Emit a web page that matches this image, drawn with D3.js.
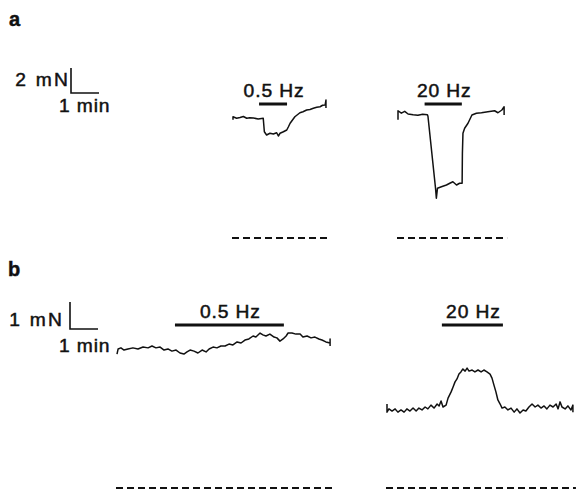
<!DOCTYPE html>
<html lang="en">
<head>
    <title>twitch traces</title>
    <meta charset="UTF-8">
    <script src="https://cdn.jsdelivr.net/npm/d3@7"></script>
    <style>
        body{margin:0;background:#fff;}
        svg{display:block;}
        text{font-family:"Liberation Sans",Arial,sans-serif;fill:#111;stroke:#111;stroke-width:0.45px;}
    </style>
</head>
<body>
    <div id="chart"></div>
    <script>
        // data: [time (min from trace start), force (mN)]
        var traceA1=[[0,9.46],[0,9.7],[0.13,9.58],[0.25,9.64],[0.37,9.72],[0.49,9.58],[0.6,9.62],[0.73,9.6],[0.9,9.52],[1.08,9.58],
            [1.12,8.5],[1.2,8.24],[1.32,8.38],[1.44,8.32],[1.56,8.42],[1.62,8.16],[1.68,8.38],[1.8,8.5],[1.92,8.64],[1.98,8.9],
            [2.04,9.18],[2.21,9.7],[2.39,10.02],[2.5,10.1],[2.63,10.24],[2.75,10.28],[2.87,10.38],[2.99,10.46],[3.11,10.5],[3.2,10.62],
            [3.29,10.64],[3.32,11.04],[3.32,10.4]];
        var traceA2=[[0,9.46],[0,10.18],[0.12,9.99],[0.24,10.13],[0.36,9.92],[0.54,9.86],[0.71,9.82],[0.88,9.9],[1.05,9.86],[1.07,9.74],
            [1.34,3.98],[1.37,3.18],[1.41,3.98],[1.55,4.1],[1.73,4.24],[1.85,4.38],[1.96,4.5],[2.09,4.24],[2.2,4.38],[2.29,4.38],
            [2.3,6.78],[2.32,8.38],[2.38,8.78],[2.5,9.18],[2.64,9.84],[2.8,9.98],[2.98,10.02],[3.21,10.1],[3.45,10.18],[3.57,10.02],
            [3.71,10.24],[3.79,10.5],[3.79,9.84]];
        var traceB1=[[0,4.96],[0.04,5.15],[0.14,5.19],[0.25,5.11],[0.39,5.15],[0.57,5.19],[0.75,5.15],[0.93,5.22],[1.11,5.19],[1.25,5.26],
            [1.39,5.19],[1.54,5.22],[1.68,5.11],[1.82,5.15],[1.96,5.07],[2.11,5.11],[2.25,5.0],[2.39,4.96],[2.5,5.04],[2.61,5.11],
            [2.75,5.07],[2.89,5.0],[3.04,5.11],[3.18,5.04],[3.29,5.15],[3.43,5.22],[3.57,5.19],[3.71,5.26],[3.86,5.26],[4.0,5.33],
            [4.14,5.3],[4.29,5.41],[4.43,5.37],[4.57,5.48],[4.71,5.52],[4.86,5.63],[4.96,5.59],[5.11,5.74],[5.21,5.67],[5.32,5.63],
            [5.46,5.7],[5.61,5.59],[5.71,5.56],[5.82,5.44],[5.93,5.52],[6.04,5.63],[6.11,5.74],[6.25,5.74],[6.39,5.7],[6.54,5.7],
            [6.64,5.59],[6.79,5.63],[6.93,5.56],[7.07,5.59],[7.21,5.52],[7.32,5.48],[7.46,5.41],[7.61,5.37],[7.61,5.52],[7.61,5.26]];
        var traceB2=[[0,3.11],[0,2.81],[0.07,2.93],[0.18,2.85],[0.29,2.93],[0.39,2.81],[0.5,2.89],[0.61,2.81],[0.71,2.93],[0.82,2.85],
            [0.93,2.96],[1.04,2.85],[1.14,2.96],[1.25,2.89],[1.36,3.0],[1.46,2.93],[1.57,3.07],[1.68,2.96],[1.79,3.11],[1.86,3.04],
            [1.93,3.22],[2.0,3.0],[2.11,3.07],[2.18,3.33],[2.29,3.56],[2.36,3.74],[2.43,3.93],[2.5,4.04],[2.57,4.22],[2.64,4.3],
            [2.71,4.41],[2.79,4.33],[2.86,4.44],[2.93,4.33],[3.04,4.37],[3.14,4.3],[3.25,4.37],[3.36,4.3],[3.46,4.37],[3.57,4.3],
            [3.68,4.22],[3.75,4.07],[3.82,3.81],[3.89,3.56],[3.96,3.26],[4.04,3.11],[4.11,2.96],[4.21,3.0],[4.32,2.89],[4.43,2.96],
            [4.54,2.81],[4.64,2.93],[4.75,2.78],[4.86,2.89],[4.96,2.85],[5.07,3.0],[5.18,3.11],[5.29,3.0],[5.39,3.07],[5.5,2.96],
            [5.61,3.04],[5.71,2.93],[5.82,3.07],[5.93,3.0],[6.04,3.11],[6.11,2.93],[6.18,3.19],[6.25,3.0],[6.36,2.93],[6.46,3.04],
            [6.57,2.89],[6.64,3.07],[6.64,2.81]];
        // stimulation periods [start, end] in min, and labels
        var stimA=[[0.93,1.93],[0.95,2.28]];
        var stimB=[[2.07,5.96],[1.96,4.14]];
        var stimLabels=['0.5 Hz','20 Hz'];
        var scaleBarA=['2 mN','1 min'];
        var scaleBarB=['1 mN','1 min'];

        var width=576, height=490;
        var svg=d3.select('#chart').append('svg').attr('width',width).attr('height',height);

        // minutes -> px (same for both panels)
        var xScale=d3.scaleLinear().domain([0,1]).range([0,28]);
        // force -> px, zero level = dashed line
        var yA=d3.scaleLinear().domain([0,2]).range([238,213]);
        var yB=d3.scaleLinear().domain([0,1]).range([488,461]);

        var line=function(y){
            return d3.line().x(function(d){return xScale(d[0]);}).y(function(d){return y(d[1]);});
        };

        // wide-ish label, like the printed figure
        function label(g,str,x,y,anchor,spacing){
            return g.append('text').text(str)
                .attr('transform','translate('+x+','+y+') scale(1.1,1)')
                .attr('text-anchor',anchor)
                .style('font-size','17.5px').style('letter-spacing',spacing+'px');
        }

        function panel(opts){
            var g=svg.append('g');
            g.append('text').text(opts.letter).attr('x',opts.letterPos[0]).attr('y',opts.letterPos[1])
                .style('font-size','20px').style('font-weight','bold');

            // scale bar
            var sb=opts.bar, y=opts.y;
            var h=y(0)-y(opts.barForce), w=xScale(1)-xScale(0);
            g.append('path')
                .attr('d','M'+sb[0]+','+(sb[1]-h)+'V'+sb[1]+'H'+(sb[0]+w))
                .attr('fill','none').attr('stroke','#111').attr('stroke-width',1.6);
            label(g,opts.barText[0],opts.forcePos[0],opts.forcePos[1],'end',2);
            label(g,opts.barText[1],opts.timePos[0],opts.timePos[1],'start',0.8);

            opts.traces.forEach(function(tr,i){
                var tg=g.append('g').attr('transform','translate('+tr.x0+',0)');
                tg.append('path').datum(tr.data)
                    .attr('d',line(y))
                    .attr('fill','none').attr('stroke','#111').attr('stroke-width',1.5)
                    .attr('stroke-linejoin','round');
                var ext=d3.extent(tr.data,function(d){return d[0];});
                // zero level
                tg.append('line')
                    .attr('x1',xScale(ext[0])-1).attr('x2',xScale(ext[1])+3)
                    .attr('y1',y(0)).attr('y2',y(0))
                    .attr('stroke','#111').attr('stroke-width',2).attr('stroke-dasharray','7,4');
                // stimulus bar + label
                var s=opts.stim[i];
                tg.append('line')
                    .attr('x1',xScale(s[0])).attr('x2',xScale(s[1]))
                    .attr('y1',opts.stimY).attr('y2',opts.stimY)
                    .attr('stroke','#111').attr('stroke-width',3);
                label(tg,stimLabels[i],xScale((s[0]+s[1])/2)+1,opts.stimY-7,'middle',0.8);
            });
        }

        panel({letter:'a',letterPos:[9,26],bar:[71,93],barForce:2,barText:scaleBarA,y:yA,
            forcePos:[70,86],timePos:[59,112],
            stim:stimA,stimY:104,
            traces:[{x0:233,data:traceA1},{x0:398,data:traceA2}]});
        panel({letter:'b',letterPos:[8,276],bar:[70,329],barForce:1,barText:scaleBarB,y:yB,
            forcePos:[64,326],timePos:[59,352],
            stim:stimB,stimY:325,
            traces:[{x0:117,data:traceB1},{x0:387,data:traceB2}]});
    </script>
</body>
</html>
